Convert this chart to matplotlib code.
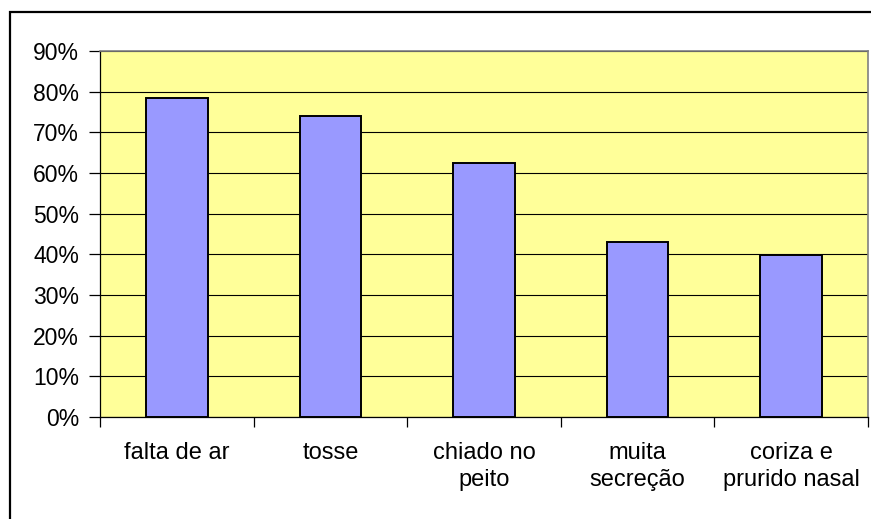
import matplotlib
matplotlib.use("Agg")
import matplotlib.pyplot as plt
from matplotlib.patches import Rectangle
from matplotlib.ticker import FixedLocator, FuncFormatter

plt.rcParams['font.family'] = ['Liberation Sans', 'DejaVu Sans']

categories = ["falta de ar", "tosse", "chiado no\npeito", "muita\nsecreção", "coriza e\nprurido nasal"]
values = [78.5, 74.0, 62.5, 43.0, 39.8]
yticks = [0, 10, 20, 30, 40, 50, 60, 70, 80, 90]

W, H = 871, 519
fig = plt.figure(figsize=(W / 100, H / 100), dpi=100)

# chart frame
fig.patches.append(Rectangle((9.5 / W, -0.1), 1.2, (H - 11.5) / H + 0.1,
                             transform=fig.transFigure, fill=False,
                             edgecolor='black', linewidth=1.6, zorder=0))

ax = fig.add_axes([100 / W, (H - 417) / H, 768 / W, 366 / H])
ax.set_facecolor('#FFFF99')

x = list(range(len(categories)))
ax.bar(x, values, width=0.40, color='#9999FF', edgecolor='black', linewidth=1.4, zorder=3)

ax.set_xlim(-0.5, len(categories) - 0.5)
ax.set_ylim(0, 90)
ax.set_yticks(yticks)
ax.yaxis.set_major_formatter(FuncFormatter(lambda v, p: f"{int(v)}%"))
ax.grid(axis='y', color='black', linewidth=0.8, zorder=1)

ax.set_xticks(x)
ax.set_xticklabels(categories, fontsize=17, linespacing=1.3)
ax.xaxis.set_minor_locator(FixedLocator([i - 0.5 for i in range(len(categories) + 1)]))
ax.tick_params(axis='x', which='major', length=0, pad=18)
ax.tick_params(axis='x', which='minor', length=7, width=0.9, color='black', direction='out')
ax.tick_params(axis='y', length=8, width=0.9, color='black', direction='out', labelsize=16.5, pad=7)

for s in ('top', 'right'):
    ax.spines[s].set_color('#808080')
    ax.spines[s].set_linewidth(1.2)
for s in ('left', 'bottom'):
    ax.spines[s].set_color('black')
    ax.spines[s].set_linewidth(0.9)

fig.savefig('out.png', dpi=100)
